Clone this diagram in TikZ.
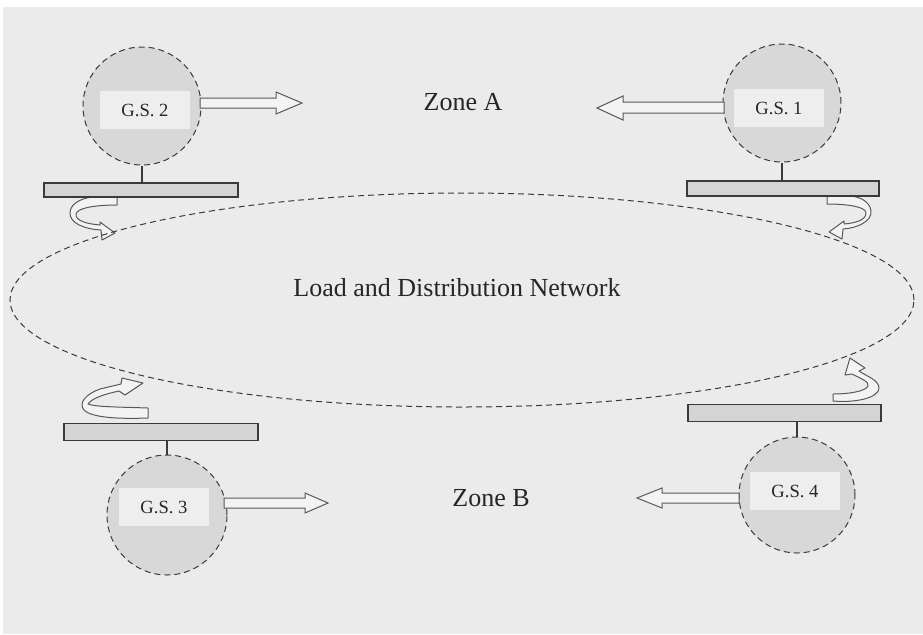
\documentclass[tikz,border=0pt]{standalone}
\usepackage{fontspec}
\setmainfont{Liberation Serif}
\usetikzlibrary{arrows.meta,calc,shapes.geometric}
\definecolor{bg}{HTML}{EBEBEB}
\definecolor{gsfill}{HTML}{D8D8D8}
\definecolor{labfill}{HTML}{EEEEEE}
\definecolor{barfill}{HTML}{D4D4D4}
\definecolor{arrfill}{HTML}{F3F3F3}
\definecolor{ink}{HTML}{3A3A3A}
\tikzset{
  gs/.style={circle, draw=ink, densely dashed, line width=0.5pt, fill=gsfill, minimum size=#1, inner sep=0pt},
  gslabel/.style={fill=labfill, minimum width=45pt, minimum height=19pt, inner sep=0pt, text=black!85, font=\fontsize{9.3}{11}\selectfont},
  busbar/.style={rectangle, draw=ink, line width=0.7pt, fill=barfill, minimum height=#1, inner sep=0pt},
  stem/.style={draw=ink, line width=0.6pt},
  blockarr/.style={draw=ink!85, line width=0.5pt, fill=arrfill, line join=miter},
  curvearr/.style={draw=ink!85, line width=0.5pt, fill=arrfill, line join=round},
  bigtext/.style={font=\fontsize{13}{15}\selectfont, text=black!85, inner sep=0pt},
  net/.style={ellipse, draw=ink, densely dashed, line width=0.5pt, inner sep=0pt},
}
\begin{document}
\begin{tikzpicture}[x=0.5pt,y=-0.5pt]
\useasboundingbox (0,0) rectangle (923,634);
\fill[white] (0,0) rectangle (923,634);
\fill[bg] (3,7) rectangle (923,634);

% curved arrows (drawn under the network outline)
\draw[curvearr] (117,197) -- (117,205) .. controls (95,205) and (77,208) .. (76,214)
  .. controls (75,221) and (88,224) .. (100,225) -- (100,222) -- (115,233) -- (102,240) -- (101,230)
  .. controls (84,229) and (69,223) .. (70,212) .. controls (71,202) and (85,197) .. (95,197) -- cycle;
\draw[curvearr] (827,196) -- (827,204) .. controls (849,204) and (866,207) .. (866,213)
  .. controls (866,220) and (856,223) .. (844,224) -- (844,221) -- (829,232) -- (842,239) -- (843,229)
  .. controls (858,228) and (872,221) .. (871,211) .. controls (870,201) and (858,196) .. (849,196) -- cycle;
\draw[curvearr] (148,408) -- (148,418) .. controls (120,419) and (92,418) .. (84,410)
  .. controls (78,403) and (86,394) .. (100,389) -- (121,384) -- (122,378) -- (143,383) -- (125,395) -- (119,391)
  .. controls (105,394) and (92,398) .. (88,404) .. controls (95,407) and (120,407) .. (148,408) -- cycle;
\draw[curvearr] (833,394) -- (833,401) .. controls (855,403) and (879,398) .. (879,388)
  .. controls (879,380) and (866,376) .. (859,371) -- (865,368) -- (850,358) -- (845,375) -- (852,374)
  .. controls (860,378) and (870,382) .. (868,386) .. controls (866,391) and (850,394) .. (833,394) -- cycle;

% network
\node[net, minimum width=452pt, minimum height=107pt] (net) at (462,300) {};
\node[bigtext] (netlabel) at (457,288) {Load and Distribution Network};
\node[bigtext] (zoneA) at (463,102) {Zone A};
\node[bigtext] (zoneB) at (491,498) {Zone B};

% bus bars
\node[busbar=7pt, minimum width=97pt] (b2) at (141,190) {};
\node[busbar=7.5pt, minimum width=96pt] (b1) at (783,188.5) {};
\node[busbar=8.5pt, minimum width=97pt] (b3) at (161,432) {};
\node[busbar=8.5pt, minimum width=96.5pt] (b4) at (784.5,413) {};

% generating stations
\node[gs=59pt] (g2) at (142,106) {};
\node[gs=59pt] (g1) at (782,103) {};
\node[gs=60pt] (g3) at (167,515) {};
\node[gs=58pt] (g4) at (797,495) {};
\node[gslabel] (l2) at (145,110) {G.S. 2};
\node[gslabel] (l1) at (779,108) {G.S. 1};
\node[gslabel] (l3) at (164,507) {G.S. 3};
\node[gslabel] (l4) at (795,491) {G.S. 4};

% stems
\draw[stem] (g2.south) -- (g2.south |- b2.north);
\draw[stem] (g1.south) -- (g1.south |- b1.north);
\draw[stem] (g3.north) -- (g3.north |- b3.south);
\draw[stem] (g4.north) -- (g4.north |- b4.south);

% block arrows towards the zones
\draw[blockarr] ($(g2.center)+(58,-8)$) -- ++(76,0) -- ++(0,-6) -- ++(26,11) -- ++(-26,11) -- ++(0,-6) -- ++(-76,0) -- cycle;
\draw[blockarr] ($(g1.center)+(-58,-1)$) -- ++(-101,0) -- ++(0,-6) -- ++(-26,12) -- ++(26,12) -- ++(0,-7) -- ++(101,0) -- cycle;
\draw[blockarr] ($(g3.center)+(57,-17)$) -- ++(81,0) -- ++(0,-5) -- ++(23,10) -- ++(-23,10) -- ++(0,-5) -- ++(-81,0) -- cycle;
\draw[blockarr] ($(g4.center)+(-58,-2)$) -- ++(-77,0) -- ++(0,-5) -- ++(-25,10) -- ++(25,10) -- ++(0,-5) -- ++(77,0) -- cycle;
\end{tikzpicture}
\end{document}
